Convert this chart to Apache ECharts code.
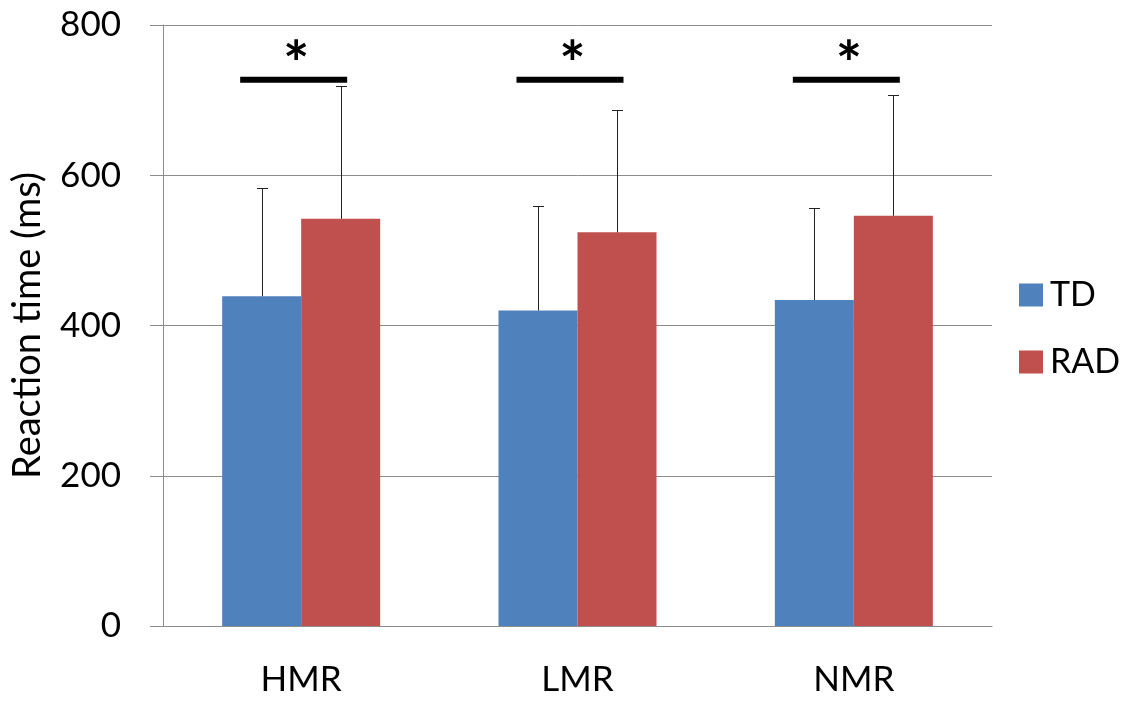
<!DOCTYPE html>
<html>
<head>
<meta charset="utf-8">
<script src="https://cdn.jsdelivr.net/npm/echarts@6/dist/echarts.min.js"></script>
<style>
html,body{margin:0;padding:0;background:#fff;}
#chart{width:1131px;height:704px;}
</style>
</head>
<body>
<div id="chart"></div>
<script>
const categories = ['HMR', 'LMR', 'NMR'];
const seriesNames = ['TD', 'RAD'];
const tdMean = [439, 420, 434];
const radMean = [542, 524, 546];
const tdErrTop = [583, 559, 556];
const radErrTop = [719, 687, 707];
const sigLevel = [727, 727, 727];
const sigLabel = ['*', '*', '*'];
const yTicks = [0, 200, 400, 600, 800];

const FONT = 'Lato, "Open Sans", sans-serif';
const BAR_W = 79;
const HALF = BAR_W / 2;

function errRender(offset) {
  return function (params, api) {
    const i = api.value(0);
    const base = api.coord([i, api.value(1)]);
    const top = api.coord([i, api.value(2)]);
    const x = Math.round(base[0] + offset) + 0.5;
    const yt = Math.round(top[1]) + 0.5;
    return {
      type: 'group',
      children: [
        { type: 'line', shape: { x1: x, y1: base[1], x2: x, y2: yt }, style: { stroke: '#222', lineWidth: 1 } },
        { type: 'line', shape: { x1: x - 5.5, y1: yt, x2: x + 5.5, y2: yt }, style: { stroke: '#222', lineWidth: 1 } }
      ]
    };
  };
}

function sigRender(params, api) {
  const i = api.value(0);
  const p = api.coord([i, api.value(1)]);
  return {
    type: 'group',
    children: [
      { type: 'rect', shape: { x: p[0] - 61, y: p[1] - 3, width: 107, height: 6 }, style: { fill: '#000' } },
      { type: 'text', style: { text: sigLabel[i], x: p[0] - 5, y: p[1] + 17, align: 'center', verticalAlign: 'bottom',
        font: 'bold 62px ' + FONT, fill: '#000' } }
    ]
  };
}

const chart = echarts.init(document.getElementById('chart'), null, { renderer: 'canvas' });
chart.setOption({
  animation: false,
  backgroundColor: '#fff',
  textStyle: { fontFamily: FONT },
  grid: { left: 163, right: 139, top: 25, bottom: 78, containLabel: false },
  legend: {
    data: seriesNames,
    orient: 'vertical',
    left: 1014,
    top: 273,
    icon: 'rect',
    itemWidth: 24,
    itemHeight: 23,
    itemGap: 33,
    textStyle: { fontSize: 34, color: '#000', fontFamily: FONT, padding: [0, 0, 0, 2] }
  },
  xAxis: {
    type: 'category',
    data: categories,
    axisLine: { show: true, lineStyle: { color: '#8c8c8c', width: 1 } },
    axisTick: { show: false },
    axisLabel: { fontSize: 35, color: '#000', margin: 36, fontFamily: FONT },
    splitLine: { show: false }
  },
  yAxis: {
    type: 'value',
    min: yTicks[0],
    max: yTicks[yTicks.length - 1],
    interval: yTicks[1] - yTicks[0],
    name: 'Reaction time (ms)',
    nameLocation: 'middle',
    nameGap: 116,
    nameTextStyle: { fontSize: 38, color: '#000', fontFamily: FONT },
    axisLine: { show: true, lineStyle: { color: '#8c8c8c', width: 1 } },
    axisTick: { show: true, inside: false, length: 13, lineStyle: { color: '#8c8c8c' } },
    axisLabel: { fontSize: 35, color: '#000', margin: 42, fontFamily: FONT },
    splitLine: { show: true, lineStyle: { color: '#8c8c8c', width: 1 } }
  },
  series: [
    { name: seriesNames[0], type: 'bar', data: tdMean, barWidth: BAR_W, barGap: '0%', itemStyle: { color: '#4F81BD' }, z: 2 },
    { name: seriesNames[1], type: 'bar', data: radMean, barWidth: BAR_W, barGap: '0%', itemStyle: { color: '#C0504D' }, z: 2 },
    { type: 'custom', name: 'errTD', renderItem: errRender(-HALF), data: categories.map((c, i) => [i, tdMean[i], tdErrTop[i]]),
      encode: { x: 0, y: [1, 2] }, z: 3, silent: true },
    { type: 'custom', name: 'errRAD', renderItem: errRender(HALF), data: categories.map((c, i) => [i, radMean[i], radErrTop[i]]),
      encode: { x: 0, y: [1, 2] }, z: 3, silent: true },
    { type: 'custom', name: 'sig', renderItem: sigRender, data: categories.map((c, i) => [i, sigLevel[i]]),
      encode: { x: 0, y: 1 }, z: 4, silent: true }
  ]
});
</script>
</body>
</html>
